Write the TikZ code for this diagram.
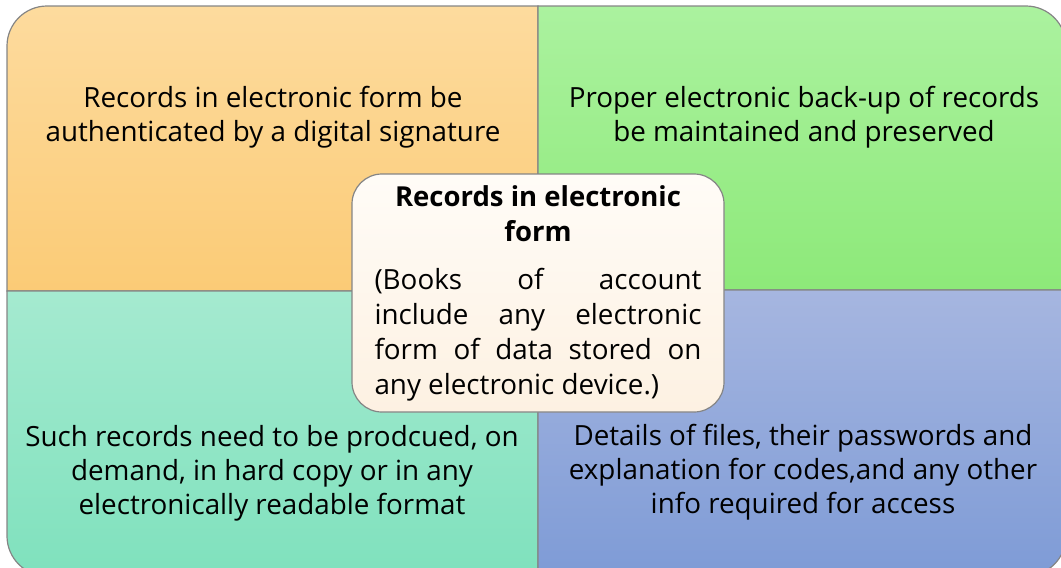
\documentclass[tikz,border=0pt]{standalone}
\usepackage{fontspec}
\setmainfont{Open Sans}
\usetikzlibrary{positioning}
\definecolor{tlTop}{HTML}{FDDB9E}
\definecolor{tlBot}{HTML}{FBCB76}
\definecolor{trTop}{HTML}{ABF29F}
\definecolor{trBot}{HTML}{8DE979}
\definecolor{blTop}{HTML}{A5EAD0}
\definecolor{blBot}{HTML}{7FE1BD}
\definecolor{brTop}{HTML}{A6B6E0}
\definecolor{brBot}{HTML}{7E9BD6}
\definecolor{coreTop}{HTML}{FFFCF7}
\definecolor{coreBot}{HTML}{FDF1E2}
\definecolor{edge}{HTML}{858585}
\tikzset{
    quad/.style={draw=edge, line width=1.2pt},
    quadtext/.style={align=center, font=\fontsize{27.8}{34}\selectfont},
    corebox/.style={
        draw=edge, line width=1.2pt, rounded corners=30pt,
        top color=coreTop, bottom color=coreBot,
        text width=327pt, inner xsep=22.5pt, inner ysep=6pt,
        minimum height=238pt, align=justify,
        font=\fontsize{27.8}{35}\selectfont
    },
}
\begin{document}
\begin{tikzpicture}[x=1pt,y=-1pt]
    \useasboundingbox (0,0) rectangle (1061,568);
    \clip (0,0) rectangle (1061,568);
    % four quadrants
    \shade[quad, top color=tlTop, bottom color=tlBot] (7,291) [rounded corners=40pt] -- (7,6) [sharp corners] -- (538,6) -- (538,291) -- cycle;
    \shade[quad, top color=trTop, bottom color=trBot] (538,290) -- (538,6) [rounded corners=40pt] -- (1066,6) [sharp corners] -- (1066,290) -- cycle;
    \shade[quad, top color=blTop, bottom color=blBot] (538,291) -- (7,291) [rounded corners=40pt] -- (7,576) [sharp corners] -- (538,576) -- cycle;
    \shade[quad, top color=brTop, bottom color=brBot] (538,290) -- (538,576) [rounded corners=40pt] -- (1066,576) [sharp corners] -- (1066,290) -- cycle;
    \node[quadtext] (tl) at (273,117) {Records in electronic form be\\authenticated by a digital signature};
    \node[quadtext] (tr) at (804,117) {Proper electronic back-up of records\\be maintained and preserved};
    \node[quadtext] (bl) at (272,473) {Such records need to be prodcued, on\\demand, in hard copy or in any\\electronically readable format};
    \node[quadtext] (br) at (803,472) {Details of files, their passwords and\\explanation for codes,and any other\\info required for access};
    % centre box
    \node[corebox] (core) at (538,293) {{\centering\fontsize{27.5}{35}\selectfont\bfseries Records in electronic\\form\par}\vspace{13pt}(Books of account\linebreak include any electronic\linebreak form of data stored on\linebreak any electronic device.)};
\end{tikzpicture}
\end{document}
